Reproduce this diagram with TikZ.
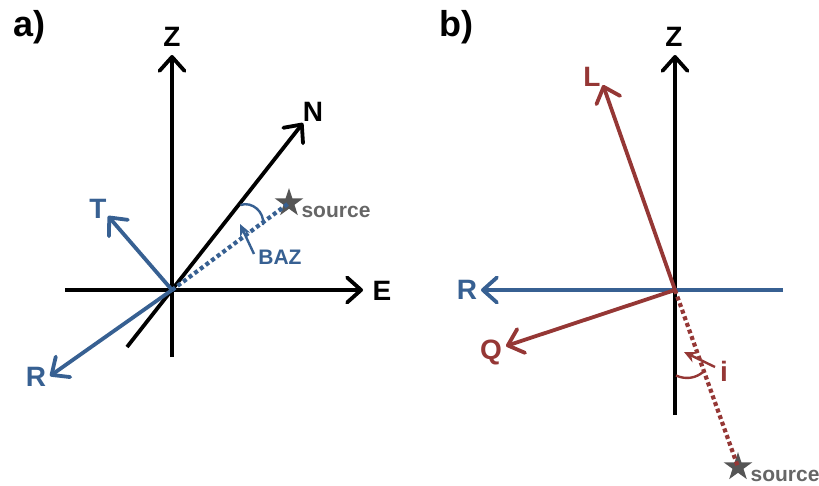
\documentclass[tikz,border=0pt]{standalone}
\usepackage{fontspec}
\setmainfont{Liberation Sans}
\usetikzlibrary{arrows.meta,shapes.geometric}
\definecolor{myblue}{HTML}{376092}
\definecolor{myred}{HTML}{953735}
\definecolor{srcgray}{HTML}{666666}
\definecolor{stargray}{HTML}{555555}
\tikzset{
  axis/.style={line width=3.8pt, line cap=butt},
  vec/.style={line width=3.8pt, -{Straight Barb[length=14pt,width=25pt,line cap=round,line join=round]}},
  dots/.style={line width=4.2pt, dash pattern=on 4pt off 3pt},
  small arr/.style={line width=2.4pt, -{Stealth[length=12pt,width=11pt]}},
  angarc/.style={line width=2.4pt},
  lab/.style={font=\fontsize{28}{28}\bfseries\selectfont, inner sep=0pt},
  panel/.style={font=\fontsize{36}{36}\bfseries\selectfont, inner sep=0pt, anchor=base west},
  slab/.style={font=\fontsize{21}{21}\bfseries\selectfont, inner sep=0pt},
  srcstar/.style={star, star points=5, star point ratio=2.6, fill=stargray, inner sep=0pt, minimum size=30pt},
}
\begin{document}
\begin{tikzpicture}[x=1pt,y=-1pt]
\useasboundingbox (0,0) rectangle (819,485);
% ---------------- panel a ----------------
\node[panel] (pa) at (13,36) {a)};
\coordinate (O) at (172,290);
\coordinate (Zb) at (172,357);
\coordinate (Zt) at (172,55);
\coordinate (Ew) at (65,290);
\coordinate (Ee) at (363,290);
\coordinate (Ns) at (127,347);
\coordinate (Nn) at (303,123);
\coordinate (Tt) at (108,216);
\coordinate (Rt) at (50,376);
\node[srcstar] (sa) at (289,203) {};
\node[slab, text=srcgray] (srca) at (336,212) {source};
\node[lab] (Za) at (172,37) {Z};
\node[lab] (Na) at (313,112) {N};
\node[lab] (Ea) at (382,291) {E};
\node[lab, text=myblue] (Ta) at (98,209) {T};
\node[lab, text=myblue] (Ra) at (36,377) {R};
\node[slab, text=myblue] (baz) at (280,257) {BAZ};
\draw[vec] (Zb) -- (Zt);
\draw[vec] (Ew) -- (Ee);
\draw[vec] (Ns) -- (Nn);
\draw[dots, myblue] (O) -- (sa.center);
\draw[vec, myblue] (O) -- (Tt);
\draw[vec, myblue] (O) -- (Rt);
\coordinate (bazA) at (240.5,205);
\coordinate (bazB) at (263,225);
\draw[angarc, myblue] (bazA) .. controls (252,201) and (265,212) .. (bazB);
\coordinate (bazt) at (254,254);
\coordinate (bazh) at (240,224);
\draw[small arr, myblue] (bazt) -- (bazh);
% ---------------- panel b ----------------
\node[panel] (pb) at (439,36) {b)};
\coordinate (O2) at (675,290);
\coordinate (Z2b) at (675,415);
\coordinate (Z2t) at (675,55);
\coordinate (Rr) at (783,290);
\coordinate (Rl) at (481,290);
\coordinate (Lt) at (603,85);
\coordinate (Qt) at (506,346);
\node[srcstar] (sb) at (738,467) {};
\node[slab, text=srcgray] (srcb) at (785,476) {source};
\node[lab] (Zb2) at (674,37) {Z};
\node[lab, text=myblue] (Rb) at (467,290) {R};
\node[lab, text=myred] (Lb) at (592,77) {L};
\node[lab, text=myred] (Qb) at (491,352) {Q};
\node[lab, text=myred] (ib) at (724,371) {i};
\draw[vec] (Z2b) -- (Z2t);
\draw[vec, myblue] (Rr) -- (Rl);
\draw[vec, myred] (O2) -- (Lt);
\draw[vec, myred] (O2) -- (Qt);
\draw[dots, myred] (O2) -- (sb.center);
\coordinate (iA) at (676,375.5);
\coordinate (iB) at (703,372);
\draw[angarc, myred] (iA) .. controls (686,380) and (696,378) .. (iB);
\coordinate (it) at (715,367);
\coordinate (ih) at (684,352);
\draw[small arr, myred] (it) -- (ih);
\end{tikzpicture}
\end{document}
